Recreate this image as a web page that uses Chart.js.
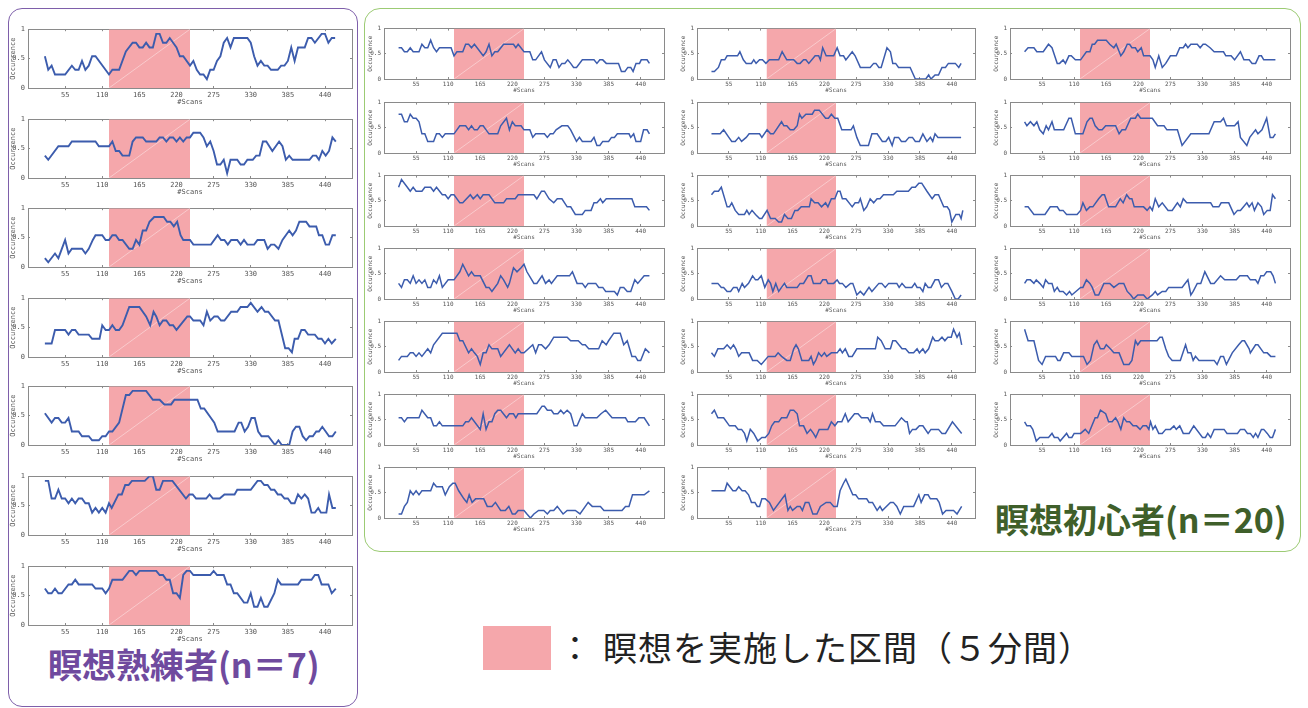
<!DOCTYPE html>
<html><head><meta charset="utf-8">
<script src="https://cdn.jsdelivr.net/npm/chart.js@4.4.1/dist/chart.umd.min.js"></script>
<style>
html,body{margin:0;padding:0;background:#fff;}
body{width:1308px;height:708px;position:relative;overflow:hidden;font-family:"Noto Sans CJK JP",sans-serif;}
.panel{position:absolute;box-sizing:border-box;}
#expertPanel{left:8px;top:8px;width:350px;height:699px;border:1.5px solid #7E5FAA;border-radius:14px;}
#novicePanel{left:364px;top:8px;width:937px;height:544px;border:1.5px solid #9CCB74;border-radius:16px;}
canvas.cv{position:absolute;}
.lbl{position:absolute;font-weight:700;font-size:34px;white-space:nowrap;line-height:1;font-family:"Noto Sans CJK JP",sans-serif;}
#swatch{position:absolute;left:483px;top:626px;width:68px;height:44px;background:#F5A7AB;}
.legendText{position:absolute;top:627px;font-size:34px;line-height:1.2;color:#222;white-space:nowrap;font-family:"Noto Sans CJK JP",sans-serif;}
</style></head><body>
<div class="panel" id="expertPanel"></div>
<div class="panel" id="novicePanel"></div>
<div class="lbl" id="expertLabel" style="left:48px;top:647px;color:#6F4A9E;">瞑想熟練者(n＝7)</div>
<div class="lbl" id="noviceLabel" style="left:995px;top:502px;color:#3F5F2A;">瞑想初心者(n＝20)</div>
<div id="swatch"></div>
<div class="legendText" style="left:558px;">：</div>
<div class="legendText" style="left:603px;letter-spacing:1px;">瞑想を実施した区間（５分間）</div>
<script>
// ---- tick labels & interval ----
const xTicks = [55,110,165,220,275,330,385,440];
const yTicks = [0,0.5,1];
const meditationStart = 120;
const meditationEnd = 240;
const xTitle = '#Scans';
const yTitle = 'Occurrence';

// ---- experts (n=7): [scan, occurrence] ----
const expert1 = [[25,.54],[30,.31],[35,.38],[40,.23],[55,.23],[65,.38],[70,.31],[75,.31],[80,.46],[85,.31],[90,.38],[95,.54],[100,.54],[120,.23],[125,.31],[135,.31],[145,.62],[155,.77],[160,.77],[165,.69],[170,.69],[175,.77],[180,.69],[185,.69],[190,.92],[195,.92],[200,.77],[205,.77],[210,.85],[220,.69],[225,.54],[230,.54],[240,.38],[245,.46],[250,.31],[255,.23],[260,.23],[265,.15],[270,.31],[275,.31],[280,.46],[285,.54],[290,.77],[295,.85],[300,.69],[305,.85],[325,.85],[330,.77],[335,.54],[340,.38],[345,.46],[350,.38],[355,.38],[360,.31],[370,.31],[375,.38],[380,.38],[385,.46],[390,.69],[395,.46],[400,.69],[410,.69],[415,.85],[420,.85],[425,.77],[435,.92],[440,.92],[445,.77],[450,.85],[455,.85]];
const expert2 = [[25,.38],[30,.31],[45,.54],[60,.54],[65,.62],[100,.62],[105,.54],[120,.54],[125,.62],[130,.46],[135,.46],[140,.38],[150,.38],[155,.62],[160,.69],[170,.69],[175,.62],[190,.62],[195,.69],[200,.69],[205,.62],[210,.69],[215,.69],[220,.62],[225,.69],[230,.62],[235,.69],[240,.69],[245,.77],[255,.77],[260,.69],[265,.54],[270,.62],[275,.46],[280,.23],[285,.23],[290,.31],[295,.08],[300,.31],[310,.31],[315,.23],[320,.23],[325,.31],[333,.31],[338,.38],[343,.38],[348,.62],[353,.62],[362,.46],[372,.62],[377,.54],[382,.31],[387,.38],[392,.31],[417,.31],[422,.38],[427,.38],[431,.31],[436,.46],[441,.38],[446,.46],[451,.69],[456,.62]];
const expert3 = [[25,.15],[30,.08],[40,.23],[45,.15],[55,.46],[60,.23],[65,.31],[80,.31],[85,.23],[90,.31],[96,.46],[100,.54],[110,.54],[115,.46],[120,.46],[125,.54],[130,.54],[135,.46],[140,.46],[150,.31],[155,.31],[160,.46],[165,.38],[170,.62],[175,.62],[180,.77],[187,.85],[201,.85],[206,.77],[211,.77],[216,.69],[221,.77],[226,.54],[230,.46],[240,.46],[245,.38],[271,.38],[281,.54],[286,.46],[291,.46],[296,.38],[301,.46],[310,.46],[315,.38],[320,.46],[325,.38],[335,.38],[340,.46],[350,.46],[355,.31],[360,.38],[365,.38],[371,.31],[377,.46],[387,.62],[392,.54],[397,.62],[402,.77],[412,.77],[417,.69],[427,.69],[431,.54],[436,.54],[441,.38],[446,.38],[451,.54],[456,.54]];
const expert4 = [[25,.23],[35,.23],[40,.46],[55,.46],[60,.38],[65,.46],[70,.46],[75,.38],[90,.38],[95,.31],[106,.31],[110,.54],[115,.46],[120,.46],[125,.54],[130,.46],[135,.46],[140,.54],[150,.85],[165,.85],[175,.69],[181,.54],[186,.77],[190,.69],[195,.54],[200,.62],[205,.62],[210,.54],[215,.54],[220,.46],[236,.69],[240,.69],[245,.62],[255,.62],[260,.54],[265,.77],[270,.62],[276,.69],[281,.69],[286,.62],[291,.62],[301,.77],[310,.77],[315,.85],[325,.85],[330,.92],[340,.77],[346,.85],[351,.77],[356,.77],[366,.62],[371,.62],[381,.15],[386,.15],[391,.08],[395,.31],[400,.31],[405,.46],[410,.46],[415,.38],[425,.38],[430,.31],[435,.31],[440,.23],[445,.31],[450,.23],[456,.31]];
const expert5 = [[25,.54],[35,.38],[40,.46],[45,.46],[50,.38],[55,.38],[60,.46],[65,.23],[75,.23],[80,.15],[90,.15],[95,.08],[105,.08],[110,.15],[115,.15],[120,.23],[125,.23],[135,.38],[145,.85],[150,.85],[155,.92],[175,.92],[185,.77],[195,.77],[202,.69],[212,.69],[217,.77],[251,.77],[256,.62],[261,.62],[276,.38],[281,.23],[306,.23],[312,.38],[316,.38],[321,.23],[326,.31],[331,.46],[336,.46],[341,.23],[346,.15],[356,.15],[366,0],[371,.08],[376,0],[387,0],[392,.23],[397,.31],[402,.31],[407,.15],[412,.08],[417,.15],[422,.15],[427,.23],[431,.23],[436,.31],[441,.23],[446,.15],[451,.15],[456,.23]];
const expert6 = [[25,.92],[30,.92],[35,.62],[40,.62],[45,.77],[50,.62],[55,.62],[60,.54],[65,.62],[70,.54],[75,.62],[80,.62],[85,.54],[90,.54],[95,.38],[100,.46],[105,.38],[110,.46],[115,.38],[120,.54],[124,.46],[134,.69],[139,.69],[144,.85],[149,.85],[154,.92],[173,.92],[180,1],[185,1],[190,.77],[195,.77],[200,.92],[214,.92],[234,.62],[239,.69],[244,.69],[249,.62],[264,.62],[269,.69],[274,.62],[284,.62],[291,.69],[306,.69],[310,.77],[330,.77],[340,.92],[345,.92],[350,.85],[355,.85],[360,.77],[365,.77],[370,.69],[375,.69],[380,.62],[385,.62],[390,.54],[395,.54],[400,.69],[405,.62],[410,.69],[415,.62],[420,.38],[425,.38],[430,.46],[434,.38],[442,.38],[446,.69],[451,.46],[456,.46]];
const expert7 = [[25,.62],[30,.54],[35,.54],[40,.62],[45,.54],[50,.54],[60,.69],[65,.69],[70,.77],[75,.69],[95,.69],[100,.62],[110,.62],[115,.54],[120,.62],[125,.77],[140,.77],[150,.92],[155,.92],[160,.85],[165,.92],[190,.92],[195,.85],[200,.85],[205,.77],[210,.77],[215,.54],[220,.54],[225,.46],[230,.85],[235,.92],[240,.92],[245,.85],[270,.85],[275,.92],[280,.85],[290,.85],[295,.69],[300,.69],[305,.54],[310,.54],[320,.38],[325,.38],[330,.54],[335,.31],[340,.31],[345,.46],[350,.31],[355,.31],[365,.54],[370,.77],[375,.69],[400,.69],[405,.77],[420,.77],[425,.85],[430,.85],[435,.69],[445,.69],[450,.54],[456,.62]];

// ---- novices (n=20), column by column ----
const novice1 = [[25,.62],[30,.62],[35,.54],[40,.54],[45,.62],[50,.54],[60,.54],[65,.69],[70,.62],[75,.62],[80,.77],[85,.62],[90,.54],[95,.62],[115,.62],[120,.46],[125,.54],[135,.54],[140,.69],[145,.69],[150,.62],[155,.69],[170,.46],[175,.54],[180,.69],[185,.46],[190,.54],[195,.54],[205,.69],[222,.69],[226,.62],[230,.69],[240,.54],[250,.54],[255,.38],[260,.38],[270,.54],[275,.38],[285,.23],[290,.38],[295,.38],[300,.23],[305,.31],[310,.31],[315,.38],[320,.31],[325,.23],[330,.23],[340,.38],[360,.38],[365,.31],[370,.38],[375,.38],[381,.31],[402,.31],[407,.15],[413,.15],[418,.23],[423,.23],[427,.15],[432,.31],[438,.31],[441,.38],[451,.38],[455,.31]];
const novice2 = [[25,.77],[30,.77],[35,.62],[40,.62],[45,.77],[50,.69],[55,.69],[60,.62],[65,.38],[70,.38],[75,.23],[85,.23],[90,.38],[95,.38],[100,.31],[105,.38],[120,.38],[130,.54],[140,.54],[145,.46],[150,.54],[155,.46],[160,.46],[165,.54],[170,.54],[175,.46],[180,.38],[195,.38],[200,.54],[210,.69],[215,.46],[220,.62],[225,.54],[235,.54],[240,.46],[250,.46],[255,.31],[260,.38],[275,.38],[280,.31],[285,.38],[290,.38],[295,.46],[305,.54],[315,.54],[320,.46],[330,.23],[335,.31],[340,.23],[355,.23],[360,.31],[365,.15],[370,.15],[375,.23],[385,.23],[390,.31],[395,.31],[400,.38],[420,.38],[423,.31],[428,.38],[432,.23],[440,.23],[445,.46],[451,.46],[455,.38]];
const novice3 = [[25,.77],[30,.92],[40,.77],[45,.69],[50,.77],[55,.69],[65,.69],[70,.77],[80,.77],[85,.69],[90,.77],[100,.62],[105,.62],[110,.54],[115,.62],[120,.62],[130,.46],[135,.46],[148,.62],[153,.54],[160,.62],[165,.54],[170,.62],[180,.62],[190,.46],[205,.46],[210,.54],[225,.54],[230,.62],[257,.62],[262,.54],[270,.69],[275,.69],[283,.54],[291,.46],[297,.54],[305,.54],[314,.38],[320,.38],[328,.23],[340,.23],[345,.31],[355,.31],[360,.46],[365,.46],[371,.54],[375,.46],[381,.54],[425,.54],[430,.38],[450,.38],[455,.31]];
const novice4 = [[25,.31],[30,.23],[35,.38],[40,.38],[45,.31],[50,.46],[55,.31],[60,.38],[65,.31],[70,.38],[75,.23],[80,.23],[85,.38],[90,.31],[95,.46],[100,.23],[110,.38],[120,.38],[130,.54],[135,.69],[145,.46],[150,.54],[155,.46],[165,.46],[175,.23],[180,.23],[185,.15],[195,.31],[200,.46],[205,.38],[212,.23],[215,.31],[222,.62],[228,.54],[235,.62],[240,.69],[245,.54],[257,.31],[262,.31],[271,.46],[277,.31],[283,.38],[287,.31],[297,.46],[318,.46],[323,.54],[331,.31],[340,.31],[345,.23],[350,.31],[363,.31],[368,.23],[375,.23],[380,.15],[395,.15],[400,.08],[405,.23],[411,.23],[417,.15],[423,.15],[430,.38],[435,.31],[446,.46],[455,.46]];
const novice5 = [[25,.23],[30,.31],[40,.31],[45,.38],[50,.38],[55,.31],[60,.38],[65,.31],[75,.46],[80,.38],[85,.54],[100,.77],[125,.77],[130,.62],[135,.62],[145,.38],[150,.46],[155,.38],[160,.31],[165,.15],[170,.38],[175,.38],[180,.54],[185,.46],[195,.46],[200,.31],[215,.54],[220,.46],[225,.38],[230,.46],[235,.38],[240,.38],[255,.54],[260,.38],[265,.54],[270,.54],[277,.46],[283,.54],[291,.69],[314,.69],[320,.62],[333,.62],[340,.54],[345,.54],[351,.46],[368,.46],[374,.62],[381,.54],[385,.62],[394,.77],[405,.77],[411,.54],[417,.62],[425,.31],[431,.31],[435,.23],[440,.23],[448,.46],[455,.38]];
const novice6 = [[25,.54],[30,.54],[35,.46],[40,.54],[60,.54],[65,.69],[75,.54],[80,.54],[85,.38],[90,.38],[95,.46],[100,.38],[135,.38],[140,.46],[145,.46],[150,.54],[165,.31],[170,.62],[175,.31],[180,.46],[185,.46],[190,.62],[195,.69],[200,.69],[210,.54],[215,.62],[222,.62],[226,.54],[230,.62],[262,.62],[271,.77],[275,.77],[280,.69],[287,.69],[291,.62],[298,.62],[303,.69],[308,.62],[314,.69],[320,.62],[326,.38],[331,.38],[340,.62],[345,.54],[365,.54],[372,.62],[380,.69],[391,.54],[414,.54],[418,.46],[431,.46],[437,.54],[446,.54],[455,.38]];
const novice7 = [[25,.08],[30,.08],[35,.23],[40,.31],[45,.54],[50,.46],[55,.54],[60,.46],[65,.54],[80,.54],[85,.69],[90,.62],[100,.62],[105,.46],[112,.62],[118,.69],[122,.69],[128,.54],[137,.38],[142,.31],[146,.46],[151,.31],[157,.38],[171,.38],[177,.23],[185,.23],[191,.31],[200,.15],[208,.15],[214,.23],[220,.08],[225,.08],[230,.15],[240,.15],[245,.08],[251,0],[257,.08],[265,.15],[274,.15],[280,.08],[285,.15],[291,.15],[297,.23],[307,.08],[314,.15],[328,.15],[336,.08],[350,.31],[357,.23],[371,.23],[377,.15],[408,.15],[414,.23],[420,.23],[426,.46],[446,.46],[455,.54]];
const novice8 = [[25,.15],[30,.15],[37,.23],[42,.38],[48,.38],[52,.46],[70,.46],[74,.54],[80,.38],[85,.31],[94,.31],[98,.38],[102,.31],[108,.38],[113,.38],[119,.31],[125,.38],[141,.38],[147,.54],[155,.38],[167,.38],[173,.31],[178,.31],[184,.38],[188,.38],[193,.31],[204,.46],[210,.46],[213,.38],[217,.62],[223,.46],[236,.46],[242,.62],[247,.46],[253,.46],[257,.38],[268,.54],[273,.46],[282,.23],[299,.23],[305,.31],[309,.31],[314,.23],[318,.23],[328,.62],[334,.54],[338,.31],[343,.31],[348,.23],[368,.23],[377,0],[395,0],[400,.08],[404,0],[411,.08],[417,.08],[423,.23],[429,.23],[434,.31],[446,.31],[452,.23],[456,.31]];
const novice9 = [[25,.38],[40,.38],[46,.46],[55,.31],[60,.23],[66,.23],[72,.31],[77,.23],[85,.31],[90,.38],[108,.38],[112,.31],[121,.46],[127,.38],[132,.38],[146,.62],[150,.54],[155,.54],[161,.46],[167,.46],[173,.54],[177,.77],[181,.69],[188,.77],[199,.77],[203,.85],[211,.85],[222,.69],[227,.69],[232,.77],[238,.69],[243,.69],[250,.46],[266,.46],[270,.54],[276,.31],[282,.15],[296,.15],[302,.38],[311,.38],[320,.23],[326,.23],[331,.31],[337,.15],[341,.31],[348,.31],[353,.23],[360,.23],[366,.31],[372,.31],[377,.23],[384,.23],[390,.38],[397,.23],[403,.31],[407,.23],[411,.38],[416,.31],[456,.31]];
const novice10 = [[25,.62],[30,.69],[37,.69],[42,.77],[52,.38],[56,.38],[60,.46],[66,.31],[72,.23],[82,.23],[86,.31],[90,.23],[95,.31],[101,.23],[108,.15],[112,.15],[121,.31],[127,.15],[135,.15],[141,.08],[146,.08],[151,.23],[157,.15],[163,.15],[169,.31],[174,.31],[180,.38],[194,.38],[197,.54],[203,.46],[209,.46],[215,.38],[222,.46],[226,.38],[232,.54],[238,.54],[243,.69],[247,.69],[251,.54],[257,.54],[268,.38],[273,.46],[279,.46],[282,.54],[288,.31],[293,.38],[299,.54],[305,.46],[311,.54],[316,.54],[322,.62],[339,.62],[345,.69],[365,.69],[371,.77],[377,.77],[383,.85],[388,.85],[397,.69],[406,.54],[411,.62],[417,.62],[426,.38],[432,.38],[436,.31],[440,.08],[447,.23],[453,.23],[456,.15],[459,.31]];
const novice11 = [[25,.31],[36,.31],[42,.23],[46,.23],[52,.15],[58,.15],[63,.23],[69,.23],[72,.15],[78,.31],[82,.23],[89,.31],[96,.46],[101,.38],[105,.38],[111,.46],[117,.23],[123,.38],[127,.31],[131,.15],[136,.31],[141,.15],[151,.31],[155,.23],[173,.23],[178,.31],[184,.31],[192,.46],[197,.46],[201,.31],[213,.31],[217,.38],[223,.38],[226,.31],[236,.31],[242,.38],[246,.31],[251,.31],[257,.23],[265,.31],[269,.31],[276,.08],[282,.15],[288,.08],[297,.23],[302,.15],[314,.31],[319,.31],[325,.23],[331,.31],[345,.31],[349,.23],[354,.31],[360,.23],[371,.23],[376,.31],[380,.23],[385,.23],[390,.15],[394,.31],[399,.23],[404,.23],[411,.38],[417,.38],[422,.23],[428,.31],[433,.31],[440,.15],[446,0],[451,0],[456,.08]];
const novice12 = [[25,.38],[30,.31],[36,.46],[46,.46],[52,.54],[58,.46],[63,.54],[67,.46],[72,.31],[77,.38],[90,.38],[96,.23],[104,.23],[111,.15],[123,.31],[135,.31],[140,.38],[146,.31],[155,.23],[161,.23],[167,.46],[171,.54],[175,.46],[181,.23],[193,.23],[197,.31],[201,.15],[205,.23],[210,.38],[215,.31],[220,.38],[224,.31],[232,.38],[242,.38],[247,.46],[251,.38],[256,.46],[262,.31],[268,.31],[276,.46],[308,.46],[312,.69],[318,.62],[325,.46],[334,.46],[338,.62],[343,.62],[354,.46],[360,.46],[366,.38],[374,.38],[380,.46],[384,.38],[390,.46],[394,.38],[400,.46],[407,.69],[411,.62],[417,.62],[423,.69],[428,.62],[433,.69],[439,.69],[443,.85],[449,.69],[453,.77],[457,.54]];
const novice13 = [[25,.62],[30,.69],[36,.54],[46,.54],[56,.38],[66,.38],[71,.31],[77,.31],[82,.23],[86,.08],[92,.31],[98,.23],[105,.08],[112,.15],[118,.15],[124,.23],[129,.38],[134,.46],[141,.46],[146,.54],[155,.54],[161,.69],[167,.69],[173,.62],[177,.38],[184,.38],[190,.23],[196,.31],[201,.23],[205,.15],[211,.31],[226,.31],[232,.46],[238,.38],[243,.46],[250,.46],[256,.62],[261,.46],[272,.62],[278,.62],[284,.54],[295,.54],[299,.46],[303,.62],[308,.46],[316,.46],[322,.38],[342,.38],[353,.54],[360,.46],[363,.46],[367,.23],[372,.31],[378,.31],[384,.38],[390,.38],[399,.23],[404,.31],[417,.31],[423,.23],[429,.23],[441,.46],[457,.23]];
const novice14 = [[25,.54],[48,.54],[52,.69],[62,.54],[67,.54],[72,.62],[78,.54],[83,.54],[89,.46],[94,.31],[100,.31],[104,.23],[108,.23],[112,.38],[118,.38],[125,.31],[132,.15],[152,.46],[157,.15],[161,.23],[165,.15],[173,.23],[178,.23],[182,.15],[187,.31],[193,.31],[200,.08],[207,.08],[213,.23],[223,.31],[230,.31],[236,.23],[242,.23],[247,.54],[253,.69],[257,.77],[269,.46],[274,.46],[279,.38],[293,.38],[297,.31],[303,.31],[311,.15],[316,.23],[320,.15],[334,.31],[339,.31],[345,.23],[351,.08],[357,.23],[374,.23],[383,.46],[387,.31],[393,.46],[399,.46],[403,.38],[414,.38],[418,.31],[424,.08],[430,.15],[443,.15],[449,.08],[457,.23]];
const novice15 = [[25,.54],[31,.62],[41,.62],[46,.54],[57,.54],[66,.69],[72,.62],[81,.31],[85,.31],[91,.38],[95,.31],[101,.46],[105,.46],[112,.38],[121,.38],[131,.54],[137,.54],[141,.69],[145,.69],[150,.77],[165,.77],[171,.69],[178,.62],[182,.69],[190,.46],[195,.54],[201,.69],[205,.69],[209,.62],[215,.62],[219,.54],[225,.62],[229,.46],[240,.46],[245,.38],[249,.23],[255,.46],[261,.23],[267,.31],[275,.46],[285,.46],[291,.62],[297,.62],[301,.69],[305,.62],[310,.69],[321,.69],[326,.62],[331,.69],[335,.69],[343,.62],[350,.54],[366,.54],[370,.46],[379,.46],[385,.38],[395,.54],[401,.38],[410,.38],[415,.31],[421,.31],[427,.46],[431,.46],[435,.38],[455,.38]];
const novice16 = [[25,.62],[29,.54],[35,.62],[41,.54],[46,.62],[51,.46],[57,.38],[62,.54],[66,.46],[72,.62],[76,.46],[92,.46],[101,.69],[105,.69],[112,.38],[125,.38],[132,.62],[137,.69],[141,.69],[146,.54],[152,.46],[158,.46],[164,.54],[181,.54],[187,.38],[192,.46],[198,.46],[207,.69],[215,.69],[219,.77],[224,.69],[244,.69],[253,.54],[264,.54],[269,.46],[287,.46],[295,.15],[310,.38],[341,.38],[350,.62],[361,.62],[366,.69],[371,.54],[385,.54],[391,.62],[395,.31],[406,.15],[411,.31],[421,.46],[425,.38],[432,.46],[440,.69],[446,.31],[451,.31],[455,.38]];
const novice17 = [[25,.38],[31,.38],[41,.23],[60,.23],[69,.38],[81,.38],[85,.31],[91,.31],[97,.23],[115,.23],[121,.31],[125,.46],[131,.31],[137,.38],[142,.38],[152,.54],[158,.62],[162,.62],[169,.38],[181,.38],[189,.54],[194,.46],[200,.62],[205,.54],[209,.54],[213,.38],[229,.38],[235,.31],[240,.38],[244,.31],[249,.54],[255,.38],[261,.46],[271,.31],[278,.31],[287,.46],[292,.38],[297,.54],[303,.46],[344,.46],[348,.38],[358,.38],[362,.46],[375,.46],[384,.23],[390,.31],[395,.31],[406,.46],[410,.38],[415,.46],[419,.31],[425,.46],[431,.38],[435,.23],[441,.31],[446,.31],[450,.62],[455,.54]];
const novice18 = [[25,.31],[29,.38],[35,.38],[41,.31],[45,.38],[51,.31],[57,.23],[61,.38],[66,.31],[72,.31],[76,.15],[81,.23],[85,.15],[91,.15],[97,.08],[102,.15],[106,.08],[121,.23],[125,.23],[131,.38],[137,.31],[141,.23],[146,.08],[152,.08],[161,.31],[171,.31],[178,.23],[187,.31],[195,.31],[201,.15],[207,.08],[212,0],[219,.08],[229,.08],[235,0],[244,.08],[249,.15],[253,.08],[261,.15],[267,.15],[272,.23],[295,.23],[305,.38],[310,.08],[314,.15],[321,.31],[327,.31],[334,.54],[344,.31],[350,.31],[361,.46],[368,.38],[388,.38],[394,.46],[407,.46],[412,.38],[421,.38],[425,.31],[430,.46],[435,.46],[440,.54],[447,.54],[451,.46],[455,.31]];
const novice19 = [[25,.85],[31,.62],[41,.62],[49,.23],[55,.15],[61,.31],[78,.31],[82,.23],[86,.23],[92,.38],[101,.38],[106,.31],[126,.31],[132,.15],[138,.23],[144,.54],[149,.62],[155,.46],[161,.46],[165,.54],[172,.46],[178,.38],[187,.38],[195,.15],[204,.15],[209,.23],[215,.62],[219,.54],[224,.62],[252,.62],[257,.69],[261,.69],[267,.46],[272,.31],[278,.23],[292,.23],[301,.54],[305,.38],[310,.38],[314,.23],[318,.31],[324,.23],[350,.23],[355,.15],[361,.31],[366,.31],[371,.15],[381,.38],[392,.54],[398,.62],[402,.62],[410,.46],[412,.38],[421,.54],[425,.54],[435,.38],[441,.38],[447,.31],[455,.31]];
const novice20 = [[25,.46],[29,.38],[35,.38],[39,.31],[45,.08],[51,.15],[66,.15],[72,.23],[76,.15],[82,.15],[86,.08],[97,.23],[101,.15],[106,.15],[110,.23],[121,.23],[129,.31],[135,.23],[146,.54],[150,.54],[155,.69],[164,.62],[169,.46],[175,.46],[181,.54],[185,.46],[190,.31],[195,.54],[200,.46],[205,.46],[211,.38],[217,.38],[223,.31],[228,.38],[234,.38],[238,.31],[241,.46],[245,.31],[249,.38],[255,.23],[261,.23],[267,.31],[275,.31],[281,.38],[285,.31],[291,.38],[297,.23],[307,.23],[315,.38],[330,.15],[335,.15],[339,.23],[344,.15],[350,.31],[367,.31],[372,.23],[390,.23],[395,.31],[402,.31],[407,.23],[412,.23],[417,.15],[421,.23],[425,.15],[431,.31],[435,.31],[441,.23],[446,.15],[450,.15],[455,.31]];

const expertSeries = [expert1,expert2,expert3,expert4,expert5,expert6,expert7];
const noviceSeries = [novice1,novice2,novice3,novice4,novice5,novice6,novice7,novice8,novice9,novice10,novice11,novice12,novice13,novice14,novice15,novice16,novice17,novice18,novice19,novice20];

// ---- layout / style (not data) ----
const LINE = '#3C5CAD';
const PINK = '#F5A7AB';
const MONO = '"DejaVu Sans Mono", "Liberation Mono", monospace';
const AXIS_C = '#8a8a8a';
const TXT_C = '#555';

function makeChart(series, plotLeft, plotTop, plotW, plotH, st){
  const PT = 3, PR = 3;
  const cv = document.createElement('canvas');
  cv.className = 'cv';
  const W = st.axw + plotW + PR, H = PT + plotH + st.xh;
  cv.width = W; cv.height = H;
  cv.style.left = (plotLeft - st.axw) + 'px';
  cv.style.top = (plotTop - PT) + 'px';
  cv.style.width = W + 'px'; cv.style.height = H + 'px';
  document.body.appendChild(cv);
  const font = {family: MONO, size: st.fs};
  const setX = s => { s.ticks = xTicks.map(v => ({value: v})); };
  const setY = s => { s.ticks = yTicks.map(v => ({value: v})); };
  new Chart(cv, {
    type: 'line',
    data: {datasets: [
      {data: series, borderColor: LINE, borderWidth: st.lw, pointRadius: 0, tension: 0, fill: false},
      {data: [[meditationStart,0],[meditationEnd,1]], borderColor: 'rgba(255,255,255,0.5)', borderWidth: 0.8, pointRadius: 0, fill: false},
      {data: [[meditationStart,1],[meditationEnd,1]], borderColor: 'rgba(0,0,0,0)', borderWidth: 0, backgroundColor: PINK, fill: 'origin', pointRadius: 0}
    ]},
    options: {
      responsive: false, animation: false, events: [], devicePixelRatio: 1,
      layout: {padding: {top: PT, right: PR, left: 0, bottom: 0}},
      plugins: {legend: {display: false}, tooltip: {enabled: false}},
      scales: {
        x: {type: 'linear', min: 0, max: 480, position: 'bottom',
            afterBuildTicks: setX, afterFit: s => { s.height = st.xh; },
            grid: {drawOnChartArea: false, tickLength: -2, color: AXIS_C},
            border: {color: AXIS_C},
            ticks: {font, color: TXT_C, padding: st.xpad, maxRotation: 0, autoSkip: false, callback: v => String(v)},
            title: {display: true, text: xTitle, font, color: TXT_C, padding: {top: 0, bottom: 0}}},
        x2: {type: 'linear', min: 0, max: 480, position: 'top',
            afterBuildTicks: setX, afterFit: s => { s.height = 0; },
            grid: {drawOnChartArea: false, tickLength: -2, color: AXIS_C},
            border: {color: AXIS_C}, ticks: {display: false}},
        y: {type: 'linear', min: 0, max: 1, position: 'left',
            afterBuildTicks: setY, afterFit: s => { s.width = st.axw; },
            grid: {drawOnChartArea: false, tickLength: -2, color: AXIS_C},
            border: {color: AXIS_C},
            ticks: {font, color: TXT_C, padding: st.ypad, callback: v => String(v)},
            title: {display: true, text: yTitle, font, color: TXT_C, padding: {top: 1, bottom: 0}}},
        y2: {type: 'linear', min: 0, max: 1, position: 'right',
            afterBuildTicks: setY, afterFit: s => { s.width = 0; },
            grid: {drawOnChartArea: false, tickLength: -2, color: AXIS_C},
            border: {color: AXIS_C}, ticks: {display: false}}
      }
    }
  });
}

const expertTops = [23,113,202,292,380,470,560];
const noviceTops = [23,97,170,243,316,389,462];
const noviceCols = [{left:384,w:280},{left:697,w:278},{left:1010,w:280}];
const noviceColCounts = [7,7,6];
const expertStyle = {axw: 20, xh: 18, fs: 7, lw: 1.9, xpad: 5, ypad: 5};
const noviceStyle = {axw: 18, xh: 15, fs: 6, lw: 1.5, xpad: 4, ypad: 5};

expertSeries.forEach((s, i) => makeChart(s, 28, expertTops[i], 324, 65, expertStyle));
let k = 0;
noviceCols.forEach((c, ci) => {
  for (let r = 0; r < noviceColCounts[ci]; r++) {
    makeChart(noviceSeries[k++], c.left, noviceTops[r], c.w, 56, noviceStyle);
  }
});
</script>
</body></html>
